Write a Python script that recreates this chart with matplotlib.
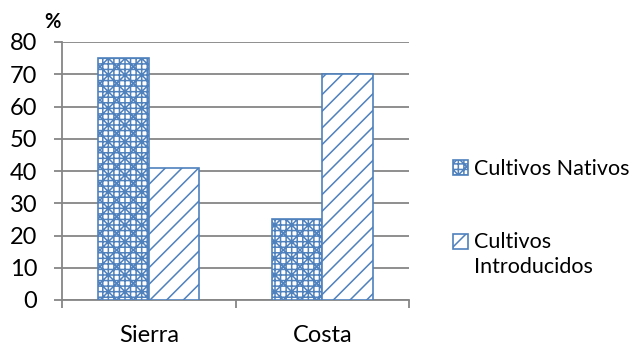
import matplotlib
matplotlib.use("Agg")
import matplotlib.pyplot as plt
import numpy as np
from matplotlib.patches import Rectangle

plt.rcParams['font.family'] = ['Lato', 'DejaVu Sans']
plt.rcParams['hatch.color'] = '#4F81BD'
plt.rcParams['hatch.linewidth'] = 1.1

regions = ["Sierra", "Costa"]
series_names = ["Cultivos Nativos", "Cultivos\nIntroducidos"]
nativos = [75, 25]
introducidos = [41, 70]
y_ticks = [0, 10, 20, 30, 40, 50, 60, 70, 80]
title_text = "Origen de cultivos y distribución"

blue = '#4F81BD'
grid_gray = '#868686'
hatches = ['+++xx', '//']

fig = plt.figure(figsize=(6.32, 3.44), dpi=100)
ax = fig.add_axes([62/632, 44/344, 347/632, 258/344])

x = np.arange(len(regions))
w = 0.29
for i, (vals, h) in enumerate(zip([nativos, introducidos], hatches)):
    ax.bar(x + (i - 0.5) * w, vals, width=w, facecolor='white', edgecolor=blue,
           hatch=h, linewidth=1.2, zorder=3)

ax.set_xlim(-0.5, len(regions) - 0.5)
ax.set_ylim(0, 80)
ax.set_yticks(y_ticks)
ax.set_yticklabels([str(v) for v in y_ticks])
ax.yaxis.grid(True, color=grid_gray, linewidth=1.3, zorder=0)
ax.set_axisbelow(True)

ax.set_xticks(x)
ax.set_xticklabels(regions)
ax.set_xticks(np.arange(-0.5, len(regions)), minor=True)
ax.tick_params(axis='x', which='major', length=0, pad=18, labelsize=17)
ax.tick_params(axis='x', which='minor', length=8*0.72, width=1.3, color=grid_gray)
ax.tick_params(axis='y', length=8*0.72, width=1.3, color=grid_gray, pad=12, labelsize=17)

for s in ['top', 'right']:
    ax.spines[s].set_visible(False)
for s in ['left', 'bottom']:
    ax.spines[s].set_color(grid_gray)
    ax.spines[s].set_linewidth(1.3)

fig.text(44/632, 1 - 28/344, "%", fontsize=14.5, fontweight='bold', va='baseline')
fig.text(100/632, 1 + 5.5/344, title_text, fontsize=23, fontweight='bold', va='baseline', ha='left')

# legend drawn by hand so the swatch sits on the first line of each label
sw = 15
legend_fs = 15.5
for name, h, top, cy in zip(series_names, hatches, [160, 234], [167, 242]):
    fig.patches.append(Rectangle((453/632, 1 - (top + sw)/344), sw/632, sw/344,
                                 transform=fig.transFigure, facecolor='white',
                                 edgecolor=blue, hatch=h, linewidth=1.2))
    if '\n' in name:
        fig.text(474/632, 1 - (cy - 10)/344, name, fontsize=legend_fs, va='top',
                 ha='left', linespacing=1.3)
    else:
        fig.text(474/632, 1 - cy/344, name, fontsize=legend_fs,
                 va='center_baseline', ha='left')

fig.savefig("out.png", dpi=100)
